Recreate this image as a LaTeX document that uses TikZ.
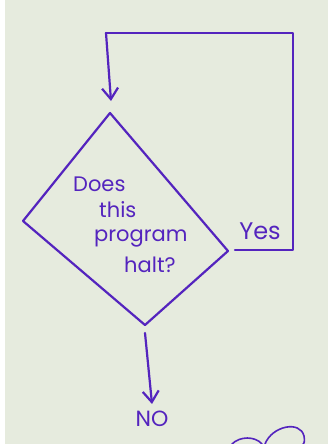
\documentclass[tikz,border=0pt]{standalone}
\usepackage{fontspec}
\setmainfont{Poppins}
\usetikzlibrary{arrows.meta}
\definecolor{marker}{RGB}{84,36,190}
\definecolor{board}{RGB}{230,235,222}
\tikzset{
  pen/.style={draw=marker, line width=2.2pt, line cap=round, line join=round},
  hand/.style={text=marker, font=\fontsize{21}{23}\selectfont, inner sep=0pt},
  tip/.style={-{Straight Barb[length=11pt,width=16pt,line width=2.2pt]}}
}
\begin{document}
\begin{tikzpicture}[x=1pt,y=-1pt]
\fill[board] (0,0) rectangle (333,444);
\fill[white] (0,0) rectangle (5,444);
\fill[white] (328,0) rectangle (333,444);
\useasboundingbox (0,0) rectangle (333,444);
% diamond
\coordinate (dt) at (110,113);
\coordinate (dl) at (23,221);
\coordinate (db) at (145,325);
\coordinate (dr) at (228,251);
\draw[pen] (dt) -- (dl) -- (db) -- (dr) -- cycle;
% text
\node[hand, anchor=west] (t1) at (73,184) {Does};
\node[hand, anchor=west] (t2) at (99,210) {this};
\node[hand, anchor=west] (t3) at (94,238) {program};
\node[hand, anchor=west] (t4) at (124,265) {halt?};
% yes branch
\node[hand, font=\fontsize{24}{26}\selectfont] (yes) at (260,231) {Yes};
\coordinate (ys) at (235,250);
\coordinate (yc) at (293,250);
\coordinate (tr) at (293,33);
\coordinate (tl) at (106,33);
\coordinate (ae) at (111,101);
\draw[pen] (ys) -- (yc) -- (tr) -- (tl);
\draw[pen, tip] (tl) -- (ae);
% no branch
\coordinate (ns) at (145,333);
\node[hand, font=\fontsize{22}{24}\selectfont] (no) at (152,419) {NO};
\draw[pen, tip] (ns) -- ([yshift=7pt]no.north);
% scribble at bottom right
\draw[pen, line width=1.6pt] (232,444) .. controls (240,436) and (255,436) .. (262,444);
\draw[pen, line width=1.6pt] (265,444) .. controls (272,426) and (300,420) .. (304,436) .. controls (305,441) and (304,444) .. (303,444);
\end{tikzpicture}
\end{document}
